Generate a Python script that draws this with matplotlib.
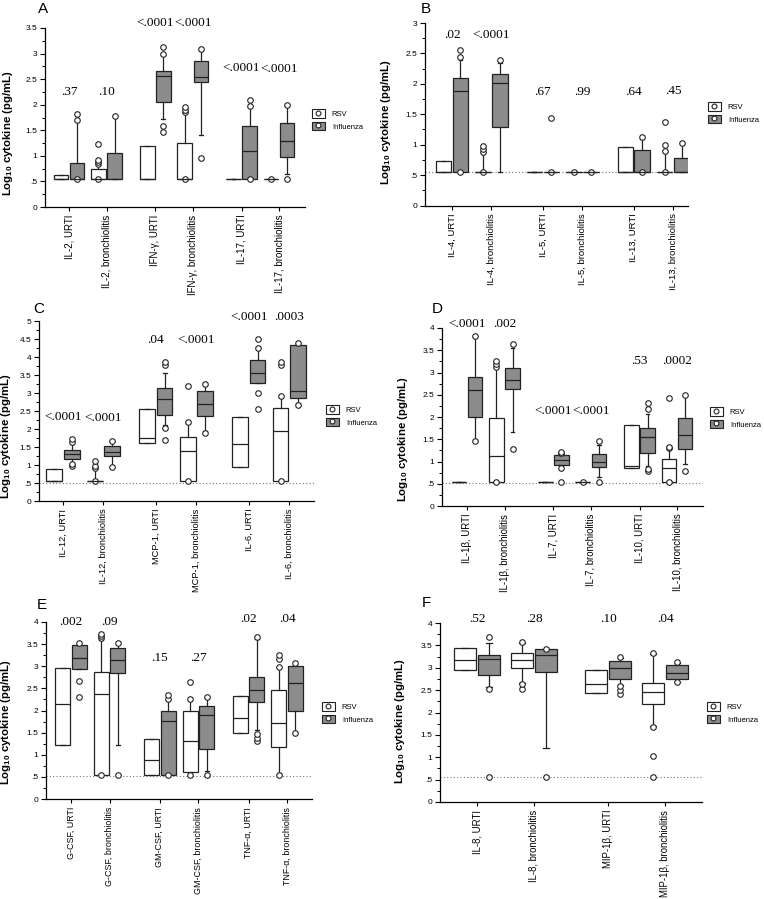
import matplotlib
matplotlib.use('Agg')
import matplotlib.pyplot as plt
from matplotlib.patches import Patch
from matplotlib.lines import Line2D
from matplotlib.legend_handler import HandlerTuple
from matplotlib.ticker import MultipleLocator, FuncFormatter

plt.rcParams['font.family'] = ['Liberation Sans', 'DejaVu Sans']
plt.rcParams['mathtext.fontset'] = 'custom'
plt.rcParams['mathtext.rm'] = 'Liberation Sans'
plt.rcParams['mathtext.bf'] = 'Liberation Sans:bold'

# box stats are (whislo, q1, median, q3, whishi), log10 pg/mL
# ---- panel A
A_categories = ["IL-2, URTI", "IL-2, bronchiolitis", "IFN-γ, URTI", "IFN-γ, bronchiolitis",
                "IL-17, URTI", "IL-17, bronchiolitis"]
A_pvalues = [".37", ".10", "<.0001", "<.0001", "<.0001", "<.0001"]
A_pvalue_y = [2.24, 2.24, 3.6, 3.6, 2.72, 2.70]
A_rsv = [(0.54, 0.54, 0.54, 0.63, 0.63), (0.54, 0.54, 0.54, 0.74, 0.84), (0.54, 0.54, 0.54, 1.20, 1.20),
         (0.54, 0.54, 0.54, 1.25, 1.83), (0.54, 0.54, 0.54, 0.54, 0.54), (0.54, 0.54, 0.54, 0.54, 0.54)]
A_rsv_fliers = [[], [0.54, 0.84, 0.88, 0.91, 1.23], [], [0.54, 1.85, 1.90, 1.96], [], [0.54]]
A_flu = [(0.54, 0.54, 0.54, 0.86, 1.68), (0.54, 0.54, 0.54, 1.05, 1.76), (1.73, 2.06, 2.57, 2.66, 2.98),
         (1.40, 2.45, 2.55, 2.86, 3.07), (0.54, 0.54, 1.09, 1.59, 1.95), (0.65, 0.98, 1.29, 1.65, 1.97)]
A_flu_fliers = [[0.54, 1.70, 1.82], [1.78], [1.47, 1.59, 3.0, 3.12], [0.95, 3.09], [0.54, 1.97, 2.10], [0.54, 1.99]]

# ---- panel B
B_categories = ["IL-4, URTI", "IL-4, bronchiolitis", "IL-5, URTI", "IL-5, bronchiolitis",
                "IL-13, URTI", "IL-13, bronchiolitis"]
B_pvalues = [".02", "<.0001", ".67", ".99", ".64", ".45"]
B_pvalue_y = [2.80, 2.80, 1.86, 1.86, 1.86, 1.89]
B_rsv = [(0.55, 0.55, 0.55, 0.73, 0.73), (0.55, 0.55, 0.55, 0.55, 0.86), (0.55, 0.55, 0.55, 0.55, 0.55),
         (0.55, 0.55, 0.55, 0.55, 0.55), (0.55, 0.55, 0.55, 0.96, 0.96), (0.55, 0.55, 0.55, 0.55, 0.88)]
B_rsv_fliers = [[], [0.55, 0.88, 0.93, 0.97], [], [0.55], [], [0.55, 0.90, 0.99, 1.38]]
B_flu = [(0.55, 0.55, 1.89, 2.09, 2.40), (0.55, 1.29, 2.02, 2.16, 2.35), (0.55, 0.55, 0.55, 0.55, 0.55),
         (0.55, 0.55, 0.55, 0.55, 0.55), (0.55, 0.55, 0.55, 0.91, 1.10), (0.55, 0.55, 0.55, 0.78, 1.02)]
B_flu_fliers = [[0.55, 2.44, 2.55], [2.39], [0.55, 1.44], [0.55], [0.55, 1.12], [1.03]]

# ---- panel C
C_categories = ["IL-12, URTI", "IL-12, bronchiolitis", "MCP-1, URTI", "MCP-1, bronchiolitis",
                "IL-6, URTI", "IL-6, bronchiolitis"]
C_pvalues = ["<.0001", "<.0001", ".04", "<.0001", "<.0001", ".0003"]
C_pvalue_y = [2.33, 2.30, 4.47, 4.47, 5.11, 5.11]
C_rsv = [(0.55, 0.55, 0.55, 0.88, 0.88), (0.55, 0.55, 0.55, 0.55, 0.90), (1.60, 1.60, 1.74, 2.55, 2.55),
         (0.55, 0.55, 1.39, 1.79, 2.18), (0.95, 0.95, 1.57, 2.34, 2.34), (0.55, 0.55, 1.94, 2.59, 2.90)]
C_rsv_fliers = [[], [0.55, 0.92, 0.97, 1.12], [], [0.55, 2.20, 3.20], [], [0.55, 2.92, 3.78, 3.86]]
C_flu = [(1.05, 1.17, 1.30, 1.41, 1.58), (0.97, 1.26, 1.37, 1.53, 1.64), (2.10, 2.39, 2.82, 3.13, 3.55),
         (1.95, 2.36, 2.69, 3.06, 3.22), (3.27, 3.27, 3.55, 3.93, 4.22), (2.72, 2.85, 3.06, 4.33, 4.40)]
C_flu_fliers = [[0.98, 1.02, 1.63, 1.72], [0.95, 1.67], [1.69, 2.02, 3.78, 3.86], [1.90, 3.24],
                [2.55, 2.99, 4.24, 4.49], [2.67, 4.40]]

# ---- panel D
D_categories = ["IL-1β, URTI", "IL-1β, bronchiolitis", "IL-7, URTI", "IL-7, bronchiolitis",
                "IL-10, URTI", "IL-10, bronchiolitis"]
D_pvalues = ["<.0001", ".002", "<.0001", "<.0001", ".53", ".0002"]
D_pvalue_y = [4.09, 4.09, 2.13, 2.13, 3.26, 3.26]
D_rsv = [(0.54, 0.54, 0.54, 0.54, 0.54), (0.54, 0.54, 1.12, 1.98, 3.10), (0.54, 0.54, 0.54, 0.54, 0.54),
         (0.54, 0.54, 0.54, 0.54, 0.54), (0.85, 0.85, 0.91, 1.83, 1.83), (0.54, 0.54, 0.86, 1.06, 1.28)]
D_rsv_fliers = [[], [0.54, 3.12, 3.18, 3.25], [], [0.54], [], [0.54, 1.30, 1.33, 2.43]]
D_flu = [(1.47, 2.00, 2.61, 2.90, 3.80), (1.66, 2.64, 2.84, 3.09, 3.54), (0.93, 0.93, 1.04, 1.14, 1.17),
         (0.65, 0.88, 0.99, 1.16, 1.36), (0.91, 1.19, 1.55, 1.75, 2.06), (0.94, 1.29, 1.59, 1.98, 2.47)]
D_flu_fliers = [[1.45, 3.82], [1.29, 3.65], [0.54, 0.86, 1.18, 1.21], [0.54, 1.46],
                [0.78, 0.84, 2.19, 2.31], [0.78, 2.50]]

# ---- panel E
E_categories = ["G-CSF, URTI", "G-CSF, bronchiolitis", "GM-CSF, URTI", "GM-CSF, bronchiolitis",
                "TNF-α, URTI", "TNF-α, bronchiolitis"]
E_pvalues = [".002", ".09", ".15", ".27", ".02", ".04"]
E_pvalue_y = [4.0, 4.0, 3.18, 3.18, 4.07, 4.07]
E_rsv = [(1.21, 1.21, 2.15, 2.96, 2.96), (0.54, 0.54, 2.38, 2.87, 3.60), (0.54, 0.54, 0.88, 1.36, 1.36),
         (0.57, 0.62, 1.31, 2.00, 2.24), (1.49, 1.49, 1.83, 2.32, 2.32), (0.56, 1.18, 1.71, 2.47, 2.96)]
E_rsv_fliers = [[], [0.54, 3.63, 3.68, 3.74], [], [0.54, 2.26, 2.64], [], [0.54, 2.98, 3.17, 3.26]]
E_flu = [(2.94, 2.94, 3.18, 3.47, 3.50), (1.21, 2.85, 3.15, 3.42, 3.50), (0.54, 0.54, 1.77, 1.98, 2.24),
         (0.64, 1.13, 1.89, 2.11, 2.28), (1.55, 2.19, 2.47, 2.75, 3.62), (1.52, 1.99, 2.63, 3.00, 3.06)]
E_flu_fliers = [[2.30, 2.66, 3.52], [0.54, 3.53], [0.54, 2.26, 2.34], [0.54, 2.30],
                [1.30, 1.38, 1.47, 3.66], [1.49, 3.08]]

# ---- panel F
F_categories = ["IL-8, URTI", "IL-8, bronchiolitis", "MIP-1β, URTI", "MIP-1β, bronchiolitis"]
F_pvalues = [".52", ".28", ".10", ".04"]
F_pvalue_y = [4.1, 4.1, 4.1, 4.1]
F_rsv = [(2.96, 2.96, 3.17, 3.45, 3.45), (2.66, 2.99, 3.17, 3.32, 3.55), (2.43, 2.43, 2.64, 2.96, 2.96),
         (1.70, 2.19, 2.45, 2.65, 3.30)]
F_rsv_fliers = [[], [2.53, 2.63, 3.57], [], [0.55, 1.03, 1.68, 3.32]]
F_flu = [(2.56, 2.84, 3.20, 3.28, 3.55), (1.20, 2.91, 3.28, 3.41, 3.42), (2.62, 2.75, 3.00, 3.14, 3.22),
         (2.69, 2.74, 2.88, 3.06, 3.10)]
F_flu_fliers = [[0.55, 2.53, 3.69], [0.55, 3.43], [2.42, 2.50, 2.60, 3.23], [2.69, 3.12]]

W, H = 764, 899
EC = '#222222'
GRAY = '#8c8c8c'
LW = 0.9
SLOTS = [0, 1, 2.3, 3.3, 4.6, 5.6]

fig = plt.figure(figsize=(W / 100, H / 100), dpi=100)


def stats(boxes, fliers):
    return [dict(whislo=b[0], q1=b[1], med=b[2], q3=b[3], whishi=b[4], fliers=f)
            for b, f in zip(boxes, fliers)]


def tick_fmt(v, pos):
    if abs(v) < 1e-9:
        return '0'
    return ('%g' % v).lstrip('0')


def draw_panel(rect, tick0, unit, ymax, floor, letter, letter_xy, ylab_xy, leg_xy, xfs,
               cats, rsv, rsv_f, flu, flu_f, pvals, pval_y):
    l, t, r, b = rect
    ax = fig.add_axes([l / W, 1 - b / H, (r - l) / W, (b - t) / H])
    pos = SLOTS[:len(cats)]

    for boxes, fl, fc, off in [(rsv, rsv_f, 'white', -0.215), (flu, flu_f, GRAY, 0.215)]:
        ax.bxp(stats(boxes, fl), positions=[p + off for p in pos], widths=0.39,
               patch_artist=True, manage_ticks=False, capwidths=0.1,
               boxprops=dict(facecolor=fc, edgecolor=EC, linewidth=LW),
               whiskerprops=dict(color=EC, linewidth=LW),
               capprops=dict(color=EC, linewidth=LW),
               medianprops=dict(color=EC, linewidth=LW),
               flierprops=dict(marker='o', markerfacecolor='white', markeredgecolor=EC,
                               markersize=4, markeredgewidth=0.8))

    if floor is not None:
        ax.axhline(floor, color='#777777', lw=0.8, ls=(0, (1, 2)), zorder=1)

    for p, txt, y in zip(pos, pvals, pval_y):
        ax.text(p, y, txt, ha='center', va='center', fontsize=9.5,
                family=['Liberation Serif', 'DejaVu Serif'])

    ax.set_xlim((l - tick0) / unit, (r - tick0) / unit)
    ax.set_ylim(0, ymax)
    ax.set_xticks(pos)
    ax.set_xticklabels(cats, rotation=90, fontsize=xfs)
    ax.yaxis.set_major_locator(MultipleLocator(0.5))
    ax.yaxis.set_minor_locator(MultipleLocator(0.25))
    ax.yaxis.set_major_formatter(FuncFormatter(tick_fmt))
    ax.tick_params(axis='y', which='major', length=3.5, width=0.8, labelsize=6, pad=2)
    ax.tick_params(axis='y', which='minor', length=2, width=0.7)
    ax.tick_params(axis='x', length=3, width=0.8, pad=2.5)
    for s in ['top', 'right']:
        ax.spines[s].set_visible(False)
    for s in ['left', 'bottom']:
        ax.spines[s].set_linewidth(0.9)
    ax.patch.set_alpha(0)

    ax.set_ylabel(r'Log$_{\mathbf{10}}$ cytokine (pg/mL)', fontsize=8.2, fontweight='bold')
    ax.yaxis.set_label_coords((ylab_xy[0] - l) / (r - l), (b - ylab_xy[1]) / (b - t))

    circ = Line2D([], [], ls='none', marker='o', markerfacecolor='white',
                  markeredgecolor=EC, markersize=3.5, markeredgewidth=0.8)
    h_rsv = (Patch(facecolor='white', edgecolor=EC, linewidth=0.8), circ)
    h_flu = (Patch(facecolor=GRAY, edgecolor=EC, linewidth=0.8), circ)
    ax.legend([h_rsv, h_flu], ['RSV', 'Influenza'], handler_map={tuple: HandlerTuple(ndivide=1)},
              loc='center left', bbox_to_anchor=(leg_xy[0] / W, 1 - leg_xy[1] / H),
              bbox_transform=fig.transFigure, frameon=False, fontsize=5.5,
              handlelength=1.7, handleheight=1.3, handletextpad=0.9, labelspacing=0.5,
              borderpad=0, borderaxespad=0)

    fig.text(letter_xy[0] / W, 1 - letter_xy[1] / H, letter, ha='left', va='top', fontsize=11)
    return ax


draw_panel((45, 28, 305, 207), 69, 37.5, 3.5, None, 'A', (38, 2), (15, 133), (312, 120), 7.0,
           A_categories, A_rsv, A_rsv_fliers, A_flu, A_flu_fliers, A_pvalues, A_pvalue_y)
draw_panel((425, 23, 688, 205.5), 452, 39.5, 3, 0.55, 'B', (421, 2), (393, 122), (708, 113), 6.8,
           B_categories, B_rsv, B_rsv_fliers, B_flu, B_flu_fliers, B_pvalues, B_pvalue_y)
draw_panel((39, 321, 314, 501), 63, 40.4, 5, 0.5, 'C', (33, 302), (13, 436), (326, 416), 6.7,
           C_categories, C_rsv, C_rsv_fliers, C_flu, C_flu_fliers, C_pvalues, C_pvalue_y)
draw_panel((442, 328, 703, 506), 467, 37.5, 4, 0.51, 'D', (432, 302), (410, 439), (710, 418), 6.9,
           D_categories, D_rsv, D_rsv_fliers, D_flu, D_flu_fliers, D_pvalues, D_pvalue_y)
draw_panel((46, 622, 312, 799), 71, 38.6, 4, 0.51, 'E', (37, 598), (13, 722), (322, 713), 6.4,
           E_categories, E_rsv, E_rsv_fliers, E_flu, E_flu_fliers, E_pvalues, E_pvalue_y)
draw_panel((440, 623, 702, 802), 477, 57, 4, 0.55, 'F', (422, 596), (407, 721), (707, 713), 6.9,
           F_categories, F_rsv, F_rsv_fliers, F_flu, F_flu_fliers, F_pvalues, F_pvalue_y)

fig.savefig('out.png', dpi=100, facecolor='white')
